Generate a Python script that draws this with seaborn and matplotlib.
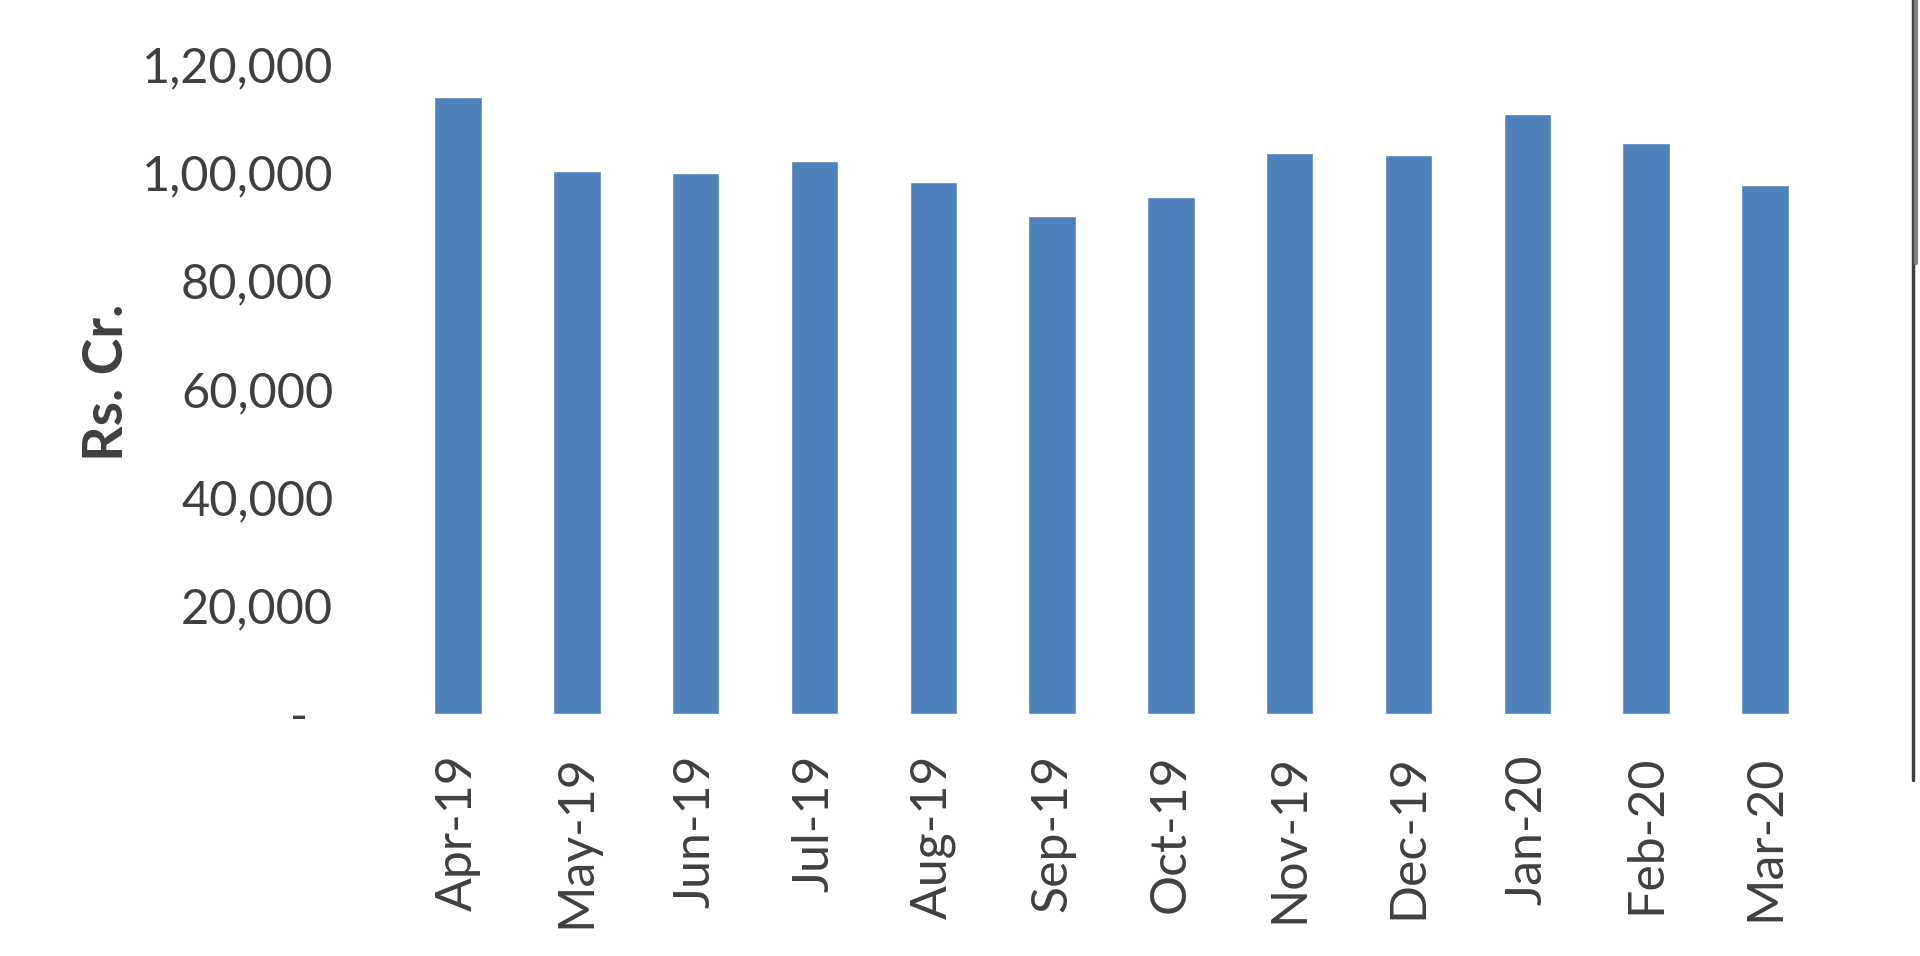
import matplotlib
matplotlib.use("Agg")
import matplotlib.pyplot as plt
import seaborn as sns
import pandas as pd
from matplotlib.lines import Line2D

months = ["Apr-19", "May-19", "Jun-19", "Jul-19", "Aug-19", "Sep-19",
          "Oct-19", "Nov-19", "Dec-19", "Jan-20", "Feb-20", "Mar-20"]
collection = [113865, 100289, 99939, 102083, 98202, 91916,
              95380, 103492, 103184, 110828, 105366, 97597]
y_ticks = [0, 20000, 40000, 60000, 80000, 100000, 120000]
y_tick_labels = ["-  ", "20,000", "40,000", "60,000", "80,000", "1,00,000", "1,20,000"]
y_label = "Rs. Cr."

sns.set_theme(style="white")
plt.rcParams["font.family"] = ["Lato", "DejaVu Sans"]

text_color = "#404040"
bar_color = "#4F81BD"

df = pd.DataFrame({"month": months, "value": collection})

fig = plt.figure(figsize=(19.2, 9.56), dpi=100)
ax = fig.add_axes([0.2076, 0.2531, 0.7426, 0.6800])

sns.barplot(data=df, x="month", y="value", color=bar_color, saturation=1,
            width=0.4, ax=ax, errorbar=None)

ax.set_xlim(-0.5, len(months) - 0.5)
ax.set_ylim(0, 120000)
ax.set_yticks(y_ticks)
ax.set_yticklabels(y_tick_labels)
ax.set_xlabel("")
ax.set_ylabel(y_label, fontsize=40, fontweight="bold", color=text_color)
ax.yaxis.set_label_coords(-0.187, 0.51)

ax.tick_params(axis="y", length=0, pad=47, labelsize=35, labelcolor=text_color)
ax.tick_params(axis="x", length=0, pad=29, labelsize=36, labelcolor=text_color,
               labelrotation=90)

for s in ax.spines.values():
    s.set_visible(False)
ax.grid(False)

# right-edge frame artifact
fig.add_artist(Line2D([1913/1920, 1913/1920], [1 - 780/956, 1.0],
                      transform=fig.transFigure, color="#404040", lw=2.5))
fig.add_artist(Line2D([1916/1920, 1916/1920], [1 - 263/956, 1.0],
                      transform=fig.transFigure, color="#808080", lw=3))

fig.savefig("out.png", dpi=100, facecolor="white")
